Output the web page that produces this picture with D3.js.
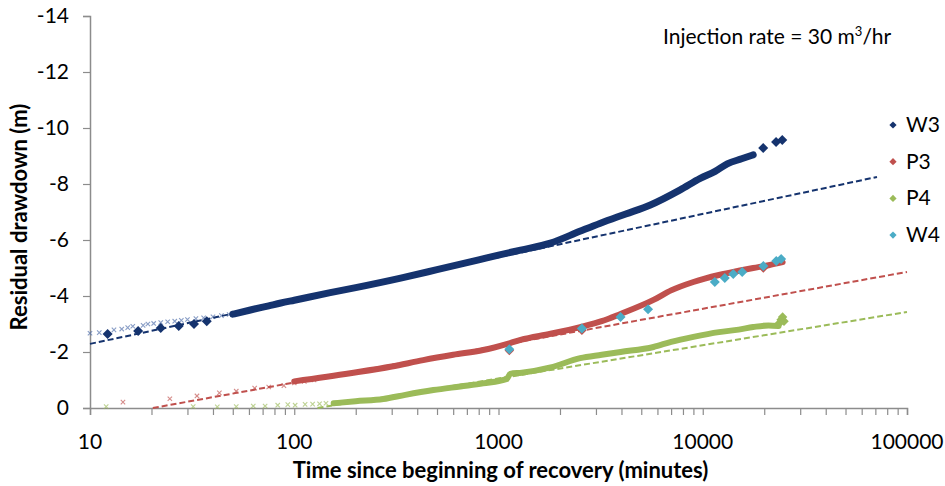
<!DOCTYPE html>
<html>
<head>
<meta charset="utf-8">
<script src="https://cdn.jsdelivr.net/npm/d3@7"></script>
<style>
  body { margin: 0; background: #fff; }
  text { font-family: Lato, "Open Sans", sans-serif; fill: #000; }
  .tick-label { font-size: 21px; }
  .title { font-size: 22px; font-weight: bold; }
</style>
</head>
<body>
<svg width="945" height="486"></svg>
<script>
// tick labels
const xTicks = [10, 100, 1000, 10000, 100000];
const yTicks = [0, -2, -4, -6, -8, -10, -12, -14];
const seriesNames = ['W3', 'P3', 'P4', 'W4'];
const colors = { W3: '#15336e', P3: '#c0504d', P4: '#9bbb59', W4: '#4bacc6' };

// W3
const w3CrossT = [10, 11.1, 13.1, 14.3, 15.3, 16.2, 18.2, 19.2, 20.5, 22.2, 24, 26, 28, 30, 33, 36, 40, 44, 48, 53];
const w3CrossV = [-2.67, -2.69, -2.79, -2.82, -2.87, -2.92, -2.95, -3.0, -3.02, -3.05, -3.08, -3.1, -3.13, -3.16, -3.19, -3.22, -3.26, -3.3, -3.34, -3.39];
const w3EarlyT = [12.2, 17.2, 22.2, 27.2, 32.3, 37.3];
const w3EarlyV = [-2.64, -2.75, -2.86, -2.93, -3.0, -3.1];
const w3BandT = [50, 61, 75, 86, 100, 150, 200, 332, 500, 800, 1000, 1283, 1795, 2500, 3155, 4200, 5540, 7760, 9720, 11500, 13180, 15500, 17660];
const w3BandV = [-3.35, -3.5, -3.65, -3.75, -3.85, -4.12, -4.3, -4.64, -4.94, -5.29, -5.46, -5.64, -5.89, -6.31, -6.6, -6.93, -7.25, -7.79, -8.2, -8.45, -8.72, -8.9, -9.04];
const w3LateT = [19770, 22860, 24500];
const w3LateV = [-9.29, -9.5, -9.57];
const w3TrendT = [10, 71300];
const w3TrendV = [-2.29, -8.25];

// P3
const p3CrossT = [14.5, 24.6, 33.4, 43, 52, 64, 75, 89, 100, 112, 125];
const p3CrossV = [-0.21, -0.33, -0.43, -0.54, -0.6, -0.71, -0.75, -0.8, -0.9, -0.95, -1.0];
const p3BandT = [100, 188, 300, 428, 600, 841, 1140, 1283, 1800, 2510, 3200, 3960, 5740, 7000, 9000, 12000, 15000, 17660, 21000, 24600];
const p3BandV = [-0.95, -1.24, -1.48, -1.71, -1.9, -2.07, -2.32, -2.43, -2.65, -2.89, -3.1, -3.36, -3.86, -4.2, -4.5, -4.75, -4.9, -5.0, -5.1, -5.21];
const p3DiamondT = [1130, 2560, 19800];
const p3DiamondV = [-2.05, -2.78, -5.0];
const p3TrendT = [20.3, 100000];
const p3TrendV = [0, -4.86];

// P4
const p4CrossT = [12, 32, 42, 52, 63, 72, 83, 93, 101, 113, 123, 133, 143];
const p4CrossV = [-0.05, -0.05, -0.04, -0.05, -0.07, -0.07, -0.1, -0.12, -0.1, -0.13, -0.14, -0.15, -0.17];
const p4BandT = [156, 200, 273, 350, 480, 650, 841, 1100, 1140, 1300, 1800, 2510, 3200, 3960, 5740, 7000, 9000, 12000, 15000, 17660, 21000, 23500];
const p4BandV = [-0.17, -0.24, -0.32, -0.47, -0.64, -0.77, -0.88, -1.04, -1.22, -1.26, -1.45, -1.78, -1.9, -2.0, -2.18, -2.36, -2.54, -2.71, -2.8, -2.89, -2.95, -2.93];
const p4EndT = [23500, 24200, 24600, 25000];
const p4EndV = [-3.0, -3.15, -3.25, -3.1];
const p4TrendT = [130, 100000];
const p4TrendV = [0, -3.43];

// W4
const w4T = [1130, 2560, 3960, 5400, 11460, 12820, 14100, 15600, 19800, 22900, 24200];
const w4V = [-2.1, -2.84, -3.25, -3.53, -4.5, -4.64, -4.79, -4.86, -5.07, -5.25, -5.32];

const zip = (ts, vs) => ts.map((t, i) => ({ t: t, v: vs[i] }));

const svg = d3.select('svg');
const plotLeft = 90, plotRight = 907, plotTop = 16, plotBottom = 408;

const x = d3.scaleLog().domain([10, 100000]).range([plotLeft, plotRight]);
const y = d3.scaleLinear().domain([0, -14]).range([plotBottom, plotTop]);

// axes
const xAxis = d3.axisBottom(x)
  .tickValues(d3.range(1, 5).flatMap(e => d3.range(1, 10).map(k => k * Math.pow(10, e))).concat([100000]))
  .tickSize(7)
  .tickFormat('');
const gx = svg.append('g').attr('transform', `translate(0, ${plotBottom})`).call(xAxis);

const yAxis = d3.axisLeft(y).tickValues(yTicks).tickSize(7).tickFormat('');
const gy = svg.append('g').attr('transform', `translate(${plotLeft}, 0)`).call(yAxis);

[gx, gy].forEach(g => {
  g.select('.domain').attr('stroke', '#8c8c8c').attr('stroke-width', 1.5);
  g.selectAll('.tick line').attr('stroke', '#8c8c8c').attr('stroke-width', 1.2);
});

svg.selectAll('.xlab')
  .data(xTicks)
  .enter()
  .append('text')
  .attr('class', 'tick-label')
  .attr('x', d => x(d))
  .attr('y', 449)
  .attr('text-anchor', 'middle')
  .text(d => d);

svg.selectAll('.ylab')
  .data(yTicks)
  .enter()
  .append('text')
  .attr('class', 'tick-label')
  .attr('x', 69)
  .attr('y', d => y(d) + 7)
  .attr('text-anchor', 'end')
  .text(d => d);

svg.append('text')
  .attr('class', 'title')
  .attr('x', (plotLeft + plotRight) / 2 + 2)
  .attr('y', 478)
  .attr('text-anchor', 'middle')
  .text('Time since beginning of recovery (minutes)');

svg.append('text')
  .attr('class', 'title')
  .attr('transform', `translate(27, ${(plotTop + plotBottom) / 2 + 5}) rotate(-90)`)
  .attr('text-anchor', 'middle')
  .text('Residual drawdown (m)');

const note = svg.append('text')
  .attr('class', 'tick-label')
  .attr('x', 663)
  .attr('y', 44);
note.append('tspan').text('Injection rate = 30 m');
note.append('tspan').attr('dy', -8).attr('font-size', 13).text('3');
note.append('tspan').attr('dy', 8).text('/hr');

const line = d3.line().x(d => x(d.t)).y(d => y(d.v));
const smooth = d3.line().x(d => x(d.t)).y(d => y(d.v)).curve(d3.curveMonotoneX);
const diamond = d3.symbol().type(d3.symbolSquare);

function crosses(data, color) {
  svg.append('g').selectAll('path')
    .data(data)
    .enter()
    .append('path')
    .attr('d', d => {
      const cx = x(d.t), cy = y(d.v), s = 2.2;
      return `M${cx - s},${cy - s}L${cx + s},${cy + s}M${cx - s},${cy + s}L${cx + s},${cy - s}`;
    })
    .attr('stroke', color)
    .attr('stroke-width', 1.1)
    .attr('opacity', 0.65);
}

// dense measured points, drawn as a thick band through the read values
function band(data, color, w) {
  svg.append('path')
    .datum(data)
    .attr('d', smooth)
    .attr('fill', 'none')
    .attr('stroke', color)
    .attr('stroke-width', w)
    .attr('stroke-linejoin', 'round')
    .attr('stroke-linecap', 'round');
}

function diamonds(data, color, size) {
  svg.append('g').selectAll('path')
    .data(data)
    .enter()
    .append('path')
    .attr('d', diamond.size(size))
    .attr('transform', d => `translate(${x(d.t)}, ${y(d.v)}) rotate(45)`)
    .attr('fill', color);
}

function trend(data, color) {
  svg.append('path')
    .datum(data)
    .attr('d', line)
    .attr('fill', 'none')
    .attr('stroke', color)
    .attr('stroke-width', 2)
    .attr('stroke-dasharray', '6,3');
}

// P4
crosses(zip(p4CrossT, p4CrossV), colors.P4);
band(zip(p4BandT, p4BandV), colors.P4, 6);
diamonds(zip(p4EndT, p4EndV), colors.P4, 45);
trend(zip(p4TrendT, p4TrendV), colors.P4);

// P3
crosses(zip(p3CrossT, p3CrossV), colors.P3);
band(zip(p3BandT, p3BandV), colors.P3, 6);
diamonds(zip(p3DiamondT, p3DiamondV), colors.P3, 45);
trend(zip(p3TrendT, p3TrendV), colors.P3);

// W3
crosses(zip(w3CrossT, w3CrossV), '#4a6aa8');
band(zip(w3BandT, w3BandV), colors.W3, 7);
diamonds(zip(w3EarlyT, w3EarlyV), colors.W3, 50);
diamonds(zip(w3LateT, w3LateV), colors.W3, 50);
trend(zip(w3TrendT, w3TrendV), colors.W3);

// W4
diamonds(zip(w4T, w4V), colors.W4, 50);

// legend
const legend = svg.selectAll('.legend')
  .data(seriesNames)
  .enter()
  .append('g')
  .attr('transform', (d, i) => `translate(893, ${125 + i * 36.7})`);

legend.append('path')
  .attr('d', d3.symbol().type(d3.symbolSquare).size(26))
  .attr('transform', 'rotate(45)')
  .attr('fill', d => colors[d]);

legend.append('text')
  .attr('class', 'tick-label')
  .attr('x', 13)
  .attr('y', 7)
  .text(d => d);
</script>
</body>
</html>
